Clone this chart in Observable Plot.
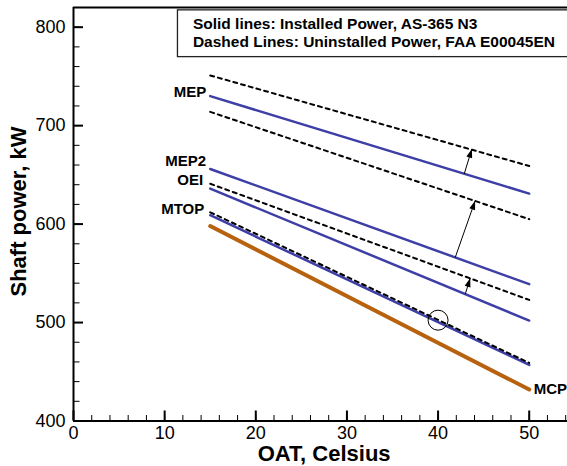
<!DOCTYPE html>
<html><head><meta charset="utf-8">
<script src="https://cdn.jsdelivr.net/npm/d3@7"></script>
<script src="https://cdn.jsdelivr.net/npm/@observablehq/plot@0.6"></script>
<style>body{margin:0;background:#fff;overflow:hidden}#chart svg{display:block}</style>
</head><body><div id="chart"></div>
<script>
// OAT (Celsius) at line start / end
const oat = [15, 50];
// Installed power (solid), kW
const mepInstalled = [730, 631];
const mep2Installed = [656, 539];
const oeiInstalled = [636, 502];
const mtopInstalled = [609, 457];
const mcpInstalled = [598, 432];
// Uninstalled power (dashed), kW
const mepUninstalled = [751, 659];
const mep2Uninstalled = [714, 605];
const oeiUninstalled = [641, 523];
const mtopUninstalled = [612, 459];

const xTicks = [0, 10, 20, 30, 40, 50];
const xMinorTicks = [0,2,4,6,8,10,12,14,16,18,20,22,24,26,28,30,32,34,36,38,40,42,44,46,48,50,52,54];
const yTicks = [400, 500, 600, 700, 800];
const yMinorTicks = [400,420,440,460,480,500,520,540,560,580,600,620,640,660,680,700,720,740,760,780,800,820];
const legendLines = ["Solid lines: Installed Power, AS-365 N3", "Dashed Lines: Uninstalled Power, FAA E00045EN"];
const xTitle = "OAT, Celsius";
const yTitle = "Shaft power, kW";

// Arrows from installed to uninstalled lines (OAT, kW)
const arrowsData = [
  {x1: 42.87, y1: 651, x2: 43.71, y2: 676.4},
  {x1: 41.88, y1: 566.1, x2: 44.07, y2: 623.8},
  {x1: 42.98, y1: 528.9, x2: 43.53, y2: 545.2}
];
const circled = [{x: 40, y: 502.4}];

const rows = (name, vals) => oat.map((t, i) => ({name, x: t, y: vals[i]}));
const solidRows = [
  ...rows("MEP", mepInstalled), ...rows("MEP2", mep2Installed),
  ...rows("OEI", oeiInstalled), ...rows("MTOP", mtopInstalled)
];
const mcpRows = rows("MCP", mcpInstalled);
const dashedRows = [
  ...rows("MEP", mepUninstalled), ...rows("MEP2", mep2Uninstalled),
  ...rows("OEI", oeiUninstalled), ...rows("MTOP", mtopUninstalled)
];

const BLUE = "#3d3fa6", BROWN = "#b7620f";
const font = "'Liberation Sans', Arial, Helvetica, sans-serif";

const labelSpecs = [
  {text: "MEP", x: oat[0], y: mepInstalled[0], anchor: "end", dx: -4, dy: -4},
  {text: "MEP2", x: oat[0], y: mep2Installed[0], anchor: "end", dx: -4, dy: -8},
  {text: "OEI", x: oat[0], y: oeiUninstalled[0], anchor: "end", dx: -7, dy: -4},
  {text: "MTOP", x: oat[0], y: mtopUninstalled[0], anchor: "end", dx: -6, dy: -3.5},
  {text: "MCP", x: oat[1], y: mcpInstalled[1], anchor: "start", dx: 4.5, dy: 0}
];

const plot = Plot.plot({
  width: 567, height: 466,
  marginLeft: 73, marginRight: 0, marginTop: 7, marginBottom: 45.5,
  x: {domain: [0, 54.2]},
  y: {domain: [400, 820]},
  style: {fontFamily: font, fontSize: "18px", color: "black", background: "white", overflow: "hidden"},
  marks: [
    // legend box
    Plot.rect([{}], {x1: 11.46, x2: 57, y1: 769.6, y2: 817.1, fill: "white", stroke: "#222", strokeWidth: 1.3}),
    Plot.text(legendLines, {x: 13.1, y: (d, i) => i === 0 ? 803.4 : 784.8, text: d => d, textAnchor: "start", fontWeight: "bold", fontSize: 15.5}),
    // lines
    Plot.line(solidRows, {x: "x", y: "y", z: "name", stroke: BLUE, strokeWidth: 2.5}),
    Plot.line(mcpRows, {x: "x", y: "y", stroke: BROWN, strokeWidth: 4}),
    Plot.line(dashedRows, {x: "x", y: "y", z: "name", stroke: "black", strokeWidth: 2, strokeDasharray: "4,4"}),
    // arrows & circle
    Plot.link(arrowsData, {x1: "x1", y1: "y1", x2: "x2", y2: "y2", stroke: "black", strokeWidth: 1, markerEnd: "arrow"}),
    Plot.dot(circled, {x: "x", y: "y", r: 10, stroke: "black", strokeWidth: 1, fill: "none"}),
    // series labels
    ...labelSpecs.map(s => Plot.text([s], {x: "x", y: "y", text: "text", textAnchor: s.anchor, dx: s.dx, dy: s.dy, fontWeight: "bold", fontSize: 15})),
    // frame
    Plot.ruleX([0], {strokeWidth: 2}),
    Plot.ruleY([400, 820], {strokeWidth: 2}),
    // ticks (inward)
    Plot.axisX({ticks: xTicks, tickSize: -10, fill: "none", strokeWidth: 2, label: null}),
    Plot.axisX({ticks: xMinorTicks, tickSize: -5.5, fill: "none", strokeWidth: 1, label: null}),
    Plot.axisY({ticks: yTicks, tickSize: -10, fill: "none", strokeWidth: 2, label: null}),
    Plot.axisY({ticks: yMinorTicks, tickSize: -6.5, fill: "none", strokeWidth: 1, label: null}),
    // tick labels
    Plot.axisX({ticks: xTicks, tickSize: 0, tickPadding: 5, label: null, fontSize: 18}),
    Plot.axisY({ticks: yTicks, tickSize: 0, tickPadding: 8, label: null, fontSize: 18}),
    // axis titles
    Plot.text([xTitle], {x: 27.5, frameAnchor: "bottom", lineAnchor: "middle", textAnchor: "middle", dy: 33, text: d => d, fontWeight: "bold", fontSize: 22}),
    Plot.text([yTitle], {frameAnchor: "left", lineAnchor: "middle", textAnchor: "middle", dx: -54.7, dy: -2.7, rotate: -90, text: d => d, fontWeight: "bold", fontSize: 22})
  ]
});

// filled arrowheads
plot.querySelectorAll("marker").forEach(m => {
  m.setAttribute("viewBox", "-10 -5 11 10");
  m.setAttribute("markerWidth", 11);
  m.setAttribute("markerHeight", 10);
  m.setAttribute("fill", "black");
  m.setAttribute("stroke", "none");
  const p = m.querySelector("path");
  if (p) p.setAttribute("d", "M-9,-3L0,0L-9,3Z");
});

document.getElementById("chart").appendChild(plot);
</script>
</body></html>
